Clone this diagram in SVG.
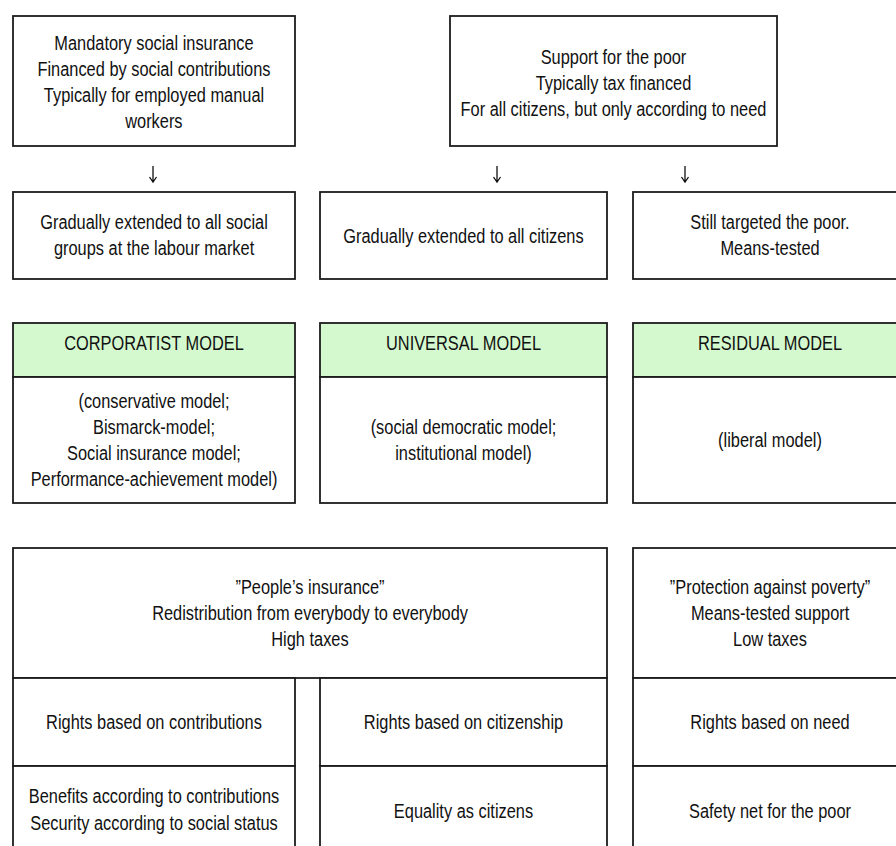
<svg xmlns="http://www.w3.org/2000/svg" width="896" height="846" viewBox="0 0 896 846">
<style>
.box{fill:#ffffff;stroke:#1c1c1c;stroke-width:1.8}
.hdr{fill:#d5f9cf;stroke:#1c1c1c;stroke-width:1.8}
.t{font-family:"Liberation Sans Narrow","Arial Narrow","Liberation Sans",sans-serif;font-size:21px;fill:#111;text-anchor:middle;transform-box:fill-box;transform-origin:50% 50%;transform:scaleX(0.78)}
.arr{stroke:#111;stroke-width:1.3;fill:none}
</style>
<rect width="896" height="846" fill="#ffffff"/>
<g id="n-social-insurance">
<rect class="box" x="13" y="16" width="282" height="130"/>
<text class="t" x="154" y="50">Mandatory social insurance</text>
<text class="t" x="154" y="76">Financed by social contributions</text>
<text class="t" x="154" y="102">Typically for employed manual</text>
<text class="t" x="154" y="128">workers</text>
</g>
<g id="n-poor-support">
<rect class="box" x="450" y="16" width="327" height="130"/>
<text class="t" x="613.5" y="64">Support for the poor</text>
<text class="t" x="613.5" y="90">Typically tax financed</text>
<text class="t" x="613.5" y="116">For all citizens, but only according to need</text>
</g>
<g id="connectors">
<path class="arr" d="M153 166V182M149.5 177L153 182L156.5 177"/>
<path class="arr" d="M497 166V182M493.5 177L497 182L500.5 177"/>
<path class="arr" d="M685 166V182M681.5 177L685 182L688.5 177"/>
</g>
<g id="n-extended-groups">
<rect class="box" x="13" y="192" width="282" height="87"/>
<text class="t" x="154" y="229.5">Gradually extended to all social</text>
<text class="t" x="154" y="255.5">groups at the labour market</text>
</g>
<g id="n-extended-citizens">
<rect class="box" x="320" y="192" width="287" height="87"/>
<text class="t" x="463.5" y="243">Gradually extended to all citizens</text>
</g>
<g id="n-targeted">
<rect class="box" x="633" y="192" width="274" height="87"/>
<text class="t" x="770" y="229.5">Still targeted the poor.</text>
<text class="t" x="770" y="255.5">Means-tested</text>
</g>
<g id="n-corporatist">
<rect class="hdr" x="13" y="323" width="282" height="54"/>
<text class="t" x="154" y="350">CORPORATIST MODEL</text>
<rect class="box" x="13" y="377" width="282" height="126"/>
<text class="t" x="154" y="408">(conservative model;</text>
<text class="t" x="154" y="434">Bismarck-model;</text>
<text class="t" x="154" y="460">Social insurance model;</text>
<text class="t" x="154" y="486">Performance-achievement model)</text>
</g>
<g id="n-universal">
<rect class="hdr" x="320" y="323" width="287" height="54"/>
<text class="t" x="463.5" y="350">UNIVERSAL MODEL</text>
<rect class="box" x="320" y="377" width="287" height="126"/>
<text class="t" x="463.5" y="434">(social democratic model;</text>
<text class="t" x="463.5" y="460">institutional model)</text>
</g>
<g id="n-residual">
<rect class="hdr" x="633" y="323" width="274" height="54"/>
<text class="t" x="770" y="350">RESIDUAL MODEL</text>
<rect class="box" x="633" y="377" width="274" height="126"/>
<text class="t" x="770" y="447">(liberal model)</text>
</g>
<g id="n-peoples-insurance">
<rect class="box" x="13" y="548" width="594" height="130"/>
<text class="t" x="310" y="594">”People’s insurance”</text>
<text class="t" x="310" y="620">Redistribution from everybody to everybody</text>
<text class="t" x="310" y="646">High taxes</text>
</g>
<g id="n-protection">
<rect class="box" x="633" y="548" width="274" height="130"/>
<text class="t" x="770" y="594">”Protection against poverty”</text>
<text class="t" x="770" y="620">Means-tested support</text>
<text class="t" x="770" y="646">Low taxes</text>
</g>
<g id="n-rights-contributions">
<rect class="box" x="13" y="678" width="282" height="88"/>
<text class="t" x="154" y="729">Rights based on contributions</text>
</g>
<g id="n-rights-citizenship">
<rect class="box" x="320" y="678" width="287" height="88"/>
<text class="t" x="463.5" y="729">Rights based on citizenship</text>
</g>
<g id="n-rights-need">
<rect class="box" x="633" y="678" width="274" height="88"/>
<text class="t" x="770" y="729">Rights based on need</text>
</g>
<g id="n-benefits">
<rect class="box" x="13" y="766" width="282" height="94"/>
<text class="t" x="154" y="803">Benefits according to contributions</text>
<text class="t" x="154" y="830">Security according to social status</text>
</g>
<g id="n-equality">
<rect class="box" x="320" y="766" width="287" height="94"/>
<text class="t" x="463.5" y="818">Equality as citizens</text>
</g>
<g id="n-safety-net">
<rect class="box" x="633" y="766" width="274" height="94"/>
<text class="t" x="770" y="818">Safety net for the poor</text>
</g>
</svg>
